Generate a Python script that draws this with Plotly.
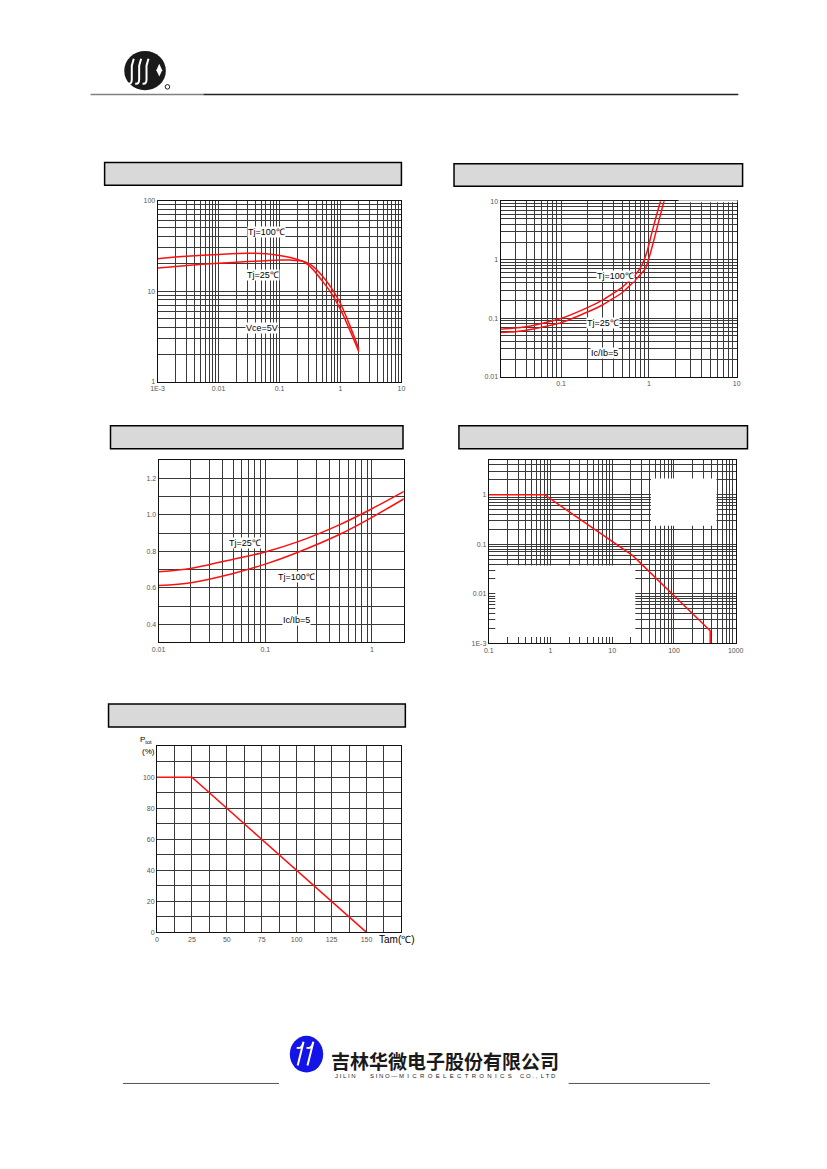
import math
import plotly.graph_objects as go

# Page size seen by the browser; the default 8px body margin is compensated
PAGE_W, PAGE_H = 827, 1169
MARGIN = 8
W, H = PAGE_W - 2 * MARGIN, PAGE_H - 2 * MARGIN

# ---------------- data ----------------
# Chart 1: hFE vs Ic (Vce=5V)
c1_ic = [0.001, 0.003, 0.01, 0.03, 0.06, 0.1, 0.15, 0.25, 0.35, 0.5, 0.7, 1.0, 1.4, 2.0]
c1_hfe_100 = [22.8, 24.2, 25.4, 26.2, 25.8, 24.8, 23.5, 21.0, 17.5, 13.0, 9.6, 6.3, 3.8, 2.15]
c1_hfe_25 = [18.0, 19.2, 20.3, 21.2, 21.7, 22.0, 22.0, 21.3, 18.9, 14.8, 11.0, 7.3, 4.3, 2.3]

# Chart 2: Vce(sat) vs Ic (Ic/Ib=5)
c2_ic_100 = [0.02, 0.03, 0.05, 0.1, 0.2, 0.3, 0.5, 0.7, 0.83, 0.95, 1.07, 1.2, 1.37]
c2_v_100 = [0.065, 0.068, 0.076, 0.099, 0.152, 0.205, 0.34, 0.55, 0.80, 1.35, 2.7, 5.2, 10.5]
c2_ic_25 = [0.02, 0.03, 0.05, 0.1, 0.2, 0.3, 0.49, 0.7, 0.92, 1.05, 1.17, 1.3, 1.5]
c2_v_25 = [0.057, 0.059, 0.066, 0.084, 0.128, 0.17, 0.27, 0.45, 0.72, 1.35, 2.5, 4.6, 10.5]

# Chart 3: Vbe(sat) vs Ic (Ic/Ib=5)
c3_ic = [0.01, 0.02, 0.05, 0.1, 0.2, 0.5, 1.0, 2.0]
c3_v_25 = [0.688, 0.706, 0.757, 0.797, 0.852, 0.947, 1.034, 1.129]
c3_v_100 = [0.612, 0.628, 0.679, 0.730, 0.794, 0.894, 0.987, 1.089]

# Chart 4: safe operating area
c4_vce = [0.1, 0.8, 21.5, 386, 386]
c4_ic = [1, 1, 0.059, 0.0018, 0.001]

# Chart 5: power derating
c5_t = [0, 25, 150]
c5_p = [100, 100, 0]

# tick labels
c1_xt = [0.001, 0.01, 0.1, 1, 10]; c1_xl = ["1E-3", "0.01", "0.1", "1", "10"]
c1_yt = [1, 10, 100]; c1_yl = ["1", "10", "100"]
c2_xt = [0.1, 1, 10]; c2_xl = ["0.1", "1", "10"]
c2_yt = [0.01, 0.1, 1, 10]; c2_yl = ["0.01", "0.1", "1", "10"]
c3_xt = [0.01, 0.1, 1]; c3_xl = ["0.01", "0.1", "1"]
c3_yt = [0.4, 0.6, 0.8, 1.0, 1.2]; c3_yl = ["0.4", "0.6", "0.8", "1.0", "1.2"]
c4_xt = [0.1, 1, 10, 100, 1000]; c4_xl = ["0.1", "1", "10", "100", "1000"]
c4_yt = [0.001, 0.01, 0.1, 1]; c4_yl = ["1E-3", "0.01", "0.1", "1"]
c5_xt = [0, 25, 50, 75, 100, 125, 150]
c5_yt = [0, 20, 40, 60, 80, 100]

# ---------------- helpers ----------------
def fx(px):
    return (px - MARGIN) / W

def fy(py):
    return 1 - (py - MARGIN) / H

def log_minor(lo, hi):
    return [m * 10.0 ** e for e in range(lo, hi) for m in range(2, 10)]

GRID = "#3a3a3a"
FONT = "Liberation Sans, Arial, sans-serif"
TICKFONT = dict(family=FONT, size=7, color="#555555")

def axis(domain, rng, typ, tv, tt, minor_vals, anchor):
    return dict(
        domain=domain, range=rng, type=typ, anchor=anchor,
        tickmode="array", tickvals=tv, ticktext=tt, tickfont=TICKFONT,
        showgrid=True, gridcolor=GRID, gridwidth=1,
        showline=True, linecolor="#111111", linewidth=1, mirror=True,
        zeroline=False, ticks="", ticklen=0,
        minor=dict(tickmode="array", tickvals=minor_vals, showgrid=True,
                   gridcolor=GRID, gridwidth=1, ticks=""),
        fixedrange=True,
    )

plots = {
    1: (153.3, 401.7, 197.7, 380.0),
    2: (502.7, 743.3, 198.3, 375.0),
    3: (154.3, 404.0, 459.0, 642.3),
    4: (490.7, 742.3, 458.3, 643.3),
    5: (152.7, 401.7, 746.7, 934.0),
}

def dom(k):
    x0, x1, y0, y1 = plots[k]
    return [fx(x0), fx(x1)], [fy(y1), fy(y0)]

fig = go.Figure()
RED = dict(color="#ff1010", width=1.5)

fig.add_trace(go.Scatter(x=c1_ic, y=c1_hfe_100, mode="lines", line=dict(**RED, shape="spline", smoothing=0.8), xaxis="x", yaxis="y"))
fig.add_trace(go.Scatter(x=c1_ic, y=c1_hfe_25, mode="lines", line=dict(**RED, shape="spline", smoothing=0.8), xaxis="x", yaxis="y"))
fig.add_trace(go.Scatter(x=c2_ic_100, y=c2_v_100, mode="lines", line=dict(**RED, shape="spline", smoothing=0.4), xaxis="x2", yaxis="y2"))
fig.add_trace(go.Scatter(x=c2_ic_25, y=c2_v_25, mode="lines", line=dict(**RED, shape="spline", smoothing=0.3), xaxis="x2", yaxis="y2"))
fig.add_trace(go.Scatter(x=c3_ic, y=c3_v_25, mode="lines", line=dict(**RED, shape="spline", smoothing=0.8), xaxis="x3", yaxis="y3"))
fig.add_trace(go.Scatter(x=c3_ic, y=c3_v_100, mode="lines", line=dict(**RED, shape="spline", smoothing=0.8), xaxis="x3", yaxis="y3"))
fig.add_trace(go.Scatter(x=c4_vce, y=c4_ic, mode="lines", line=RED, xaxis="x4", yaxis="y4"))
fig.add_trace(go.Scatter(x=c5_t, y=c5_p, mode="lines", line=RED, xaxis="x5", yaxis="y5"))

lay = {}
d = dom(1)
lay["xaxis"] = axis(d[0], [-3, 1], "log", c1_xt, c1_xl, log_minor(-3, 1), "y")
lay["yaxis"] = axis(d[1], [0, 2], "log", c1_yt, c1_yl, log_minor(0, 2), "x")
d = dom(2)
lay["xaxis2"] = axis(d[0], [math.log10(0.0205), 1], "log", c2_xt, c2_xl, log_minor(-2, 1), "y2")
lay["yaxis2"] = axis(d[1], [-2, 1], "log", c2_yt, c2_yl, log_minor(-2, 1), "x2")
d = dom(3)
lay["xaxis3"] = axis(d[0], [-2, 0.297], "log", c3_xt, c3_xl, log_minor(-2, 1), "y3")
lay["yaxis3"] = axis(d[1], [0.3, 1.3], "linear", c3_yt, c3_yl,
                     [round(0.3 + 0.1 * i, 2) for i in range(11)], "x3")
d = dom(4)
lay["xaxis4"] = axis(d[0], [-1, 3], "log", c4_xt, c4_xl, log_minor(-1, 3), "y4")
lay["yaxis4"] = axis(d[1], [-3, 0.71], "log", c4_yt, c4_yl, log_minor(-3, 1), "x4")
d = dom(5)
lay["xaxis5"] = axis(d[0], [0, 175], "linear", c5_xt, [str(v) for v in c5_xt],
                     [12.5 * i for i in range(15)], "y5")
lay["yaxis5"] = axis(d[1], [0, 120], "linear", c5_yt, [str(v) for v in c5_yt],
                     [10 * i for i in range(13)], "x5")

shapes = []
def rect(x0, x1, y0, y1, fill, lc=None, lw=0, layer="above"):
    shapes.append(dict(type="rect", xref="paper", yref="paper",
                       x0=fx(x0), x1=fx(x1), y0=fy(y1), y1=fy(y0),
                       fillcolor=fill, line=dict(color=lc or fill, width=lw), layer=layer))

def line(x0, y0, x1, y1, color, width):
    shapes.append(dict(type="line", xref="paper", yref="paper",
                       x0=fx(x0), x1=fx(x1), y0=fy(y0), y1=fy(y1),
                       line=dict(color=color, width=width), layer="above"))

# title boxes
for (x0, x1, y0, y1) in [(99.3, 401.7, 159.3, 182.3), (455.3, 749.3, 160.7, 183.3),
                         (105.3, 403.3, 424.3, 447.3), (460.3, 754.3, 424.3, 447.3),
                         (103.3, 405.7, 704.3, 727.3)]:
    rect(x0, x1, y0, y1, "#d9d9d9", "#000000", 1.5)

# white blanked areas in SOA chart
rect(656, 722.7, 477.3, 525, "#ffffff")
rect(497.3, 640, 565, 636.7, "#ffffff")
# missing top border part in chart 2
line(684, 198.3, 744, 198.3, "#ffffff", 2)

# header line
line(85, 91, 200, 91, "#808080", 1.5)
line(200, 91, 745, 91, "#222222", 1.5)

# header logo
shapes.append(dict(type="circle", xref="paper", yref="paper", x0=fx(119.3), x1=fx(161.7),
                   y0=fy(86.7), y1=fy(47.3), fillcolor="#1a1a1a", line=dict(color="#1a1a1a", width=0)))
for sx in [127, 134.5, 142]:
    shapes.append(dict(type="path", xref="paper", yref="paper",
                       path=f"M {fx(sx+2)},{fy(55)} L {fx(sx)},{fy(62)} L {fx(sx)},{fy(76)} Q {fx(sx)},{fy(81)} {fx(sx-4)},{fy(80)}",
                       line=dict(color="#ffffff", width=2)))
shapes.append(dict(type="path", xref="paper", yref="paper",
                   path=f"M {fx(155)},{fy(60)} L {fx(158)},{fy(66.7)} L {fx(155)},{fy(73)} L {fx(152)},{fy(66.7)} Z",
                   fillcolor="#ffffff", line=dict(color="#ffffff", width=0)))
shapes.append(dict(type="circle", xref="paper", yref="paper", x0=fx(161), x1=fx(165.6),
                   y0=fy(85.6), y1=fy(81), fillcolor="rgba(0,0,0,0)", line=dict(color="#1a1a1a", width=1)))

# footer
line(118, 1086, 277, 1086, "#555555", 1)
line(572, 1086, 716, 1086, "#555555", 1)
shapes.append(dict(type="circle", xref="paper", yref="paper", x0=fx(288), x1=fx(322),
                   y0=fy(1075), y1=fy(1038), fillcolor="#1414e6", line=dict(color="#1414e6", width=0)))
for (a, b, c, dd) in [(300, 1046, 296, 1068), (310, 1046, 306, 1068)]:
    shapes.append(dict(type="path", xref="paper", yref="paper",
                       path=f"M {fx(a-5)},{fy(b+4)} Q {fx(a)},{fy(b+6)} {fx(a+2)},{fy(b-2)} L {fx(c)},{fy(dd)}",
                       line=dict(color="#ffffff", width=2)))

lay["shapes"] = shapes

ann = []
def text(x, y, s, size=9, color="#000000", bg="#ffffff", xanchor="center", family=FONT):
    ann.append(dict(x=fx(x), y=fy(y), xref="paper", yref="paper", text=s, showarrow=False,
                    xanchor=xanchor, yanchor="middle", bgcolor=bg, borderpad=0,
                    font=dict(family=family, size=size, color=color)))

text(264, 229, "Tj=100℃")
text(261, 273, "Tj=25℃")
text(260, 326, "Vce=5V")
text(620, 274, "Tj=100℃")
text(607, 321, "Tj=25℃")
text(609, 351, "Ic/Ib=5")
text(242, 542, "Tj=25℃")
text(295, 576, "Tj=100℃")
text(295, 620, "Ic/Ib=5")
text(141, 740, "P<sub>tot</sub>", size=8, bg="rgba(0,0,0,0)")
text(144, 752, "(%)", size=8, bg="rgba(0,0,0,0)")
text(397, 941, "Tam(℃)", size=10, bg="rgba(0,0,0,0)")

NB = "\u00a0"
CLEAR = "rgba(0,0,0,0)"
text(446, 1063, "<b>吉林华微电子股份有限公司</b>", size=19, color="#1a1a1a", bg=CLEAR,
     family="Noto Sans CJK SC")
text(333, 1079, NB.join("JILIN"), size=6, color="#222222", bg=CLEAR, xanchor="left")
text(369, 1079, NB.join("SINO") + NB + "—" + NB + (NB * 2).join("MICROELECTRONICS"),
     size=6, color="#222222", bg=CLEAR, xanchor="left")
text(521, 1079, NB.join("CO.,") + NB * 2 + NB.join("LTD"), size=6, color="#222222", bg=CLEAR,
     xanchor="left")

lay["annotations"] = ann

fig.update_layout(
    width=W, height=H, autosize=False,
    margin=dict(l=0, r=0, t=0, b=0, pad=0),
    paper_bgcolor="#ffffff", plot_bgcolor="#ffffff",
    showlegend=False,
    font=dict(family=FONT),
    **lay,
)

fig.write_html("out.html", config={"displayModeBar": False, "staticPlot": True})
